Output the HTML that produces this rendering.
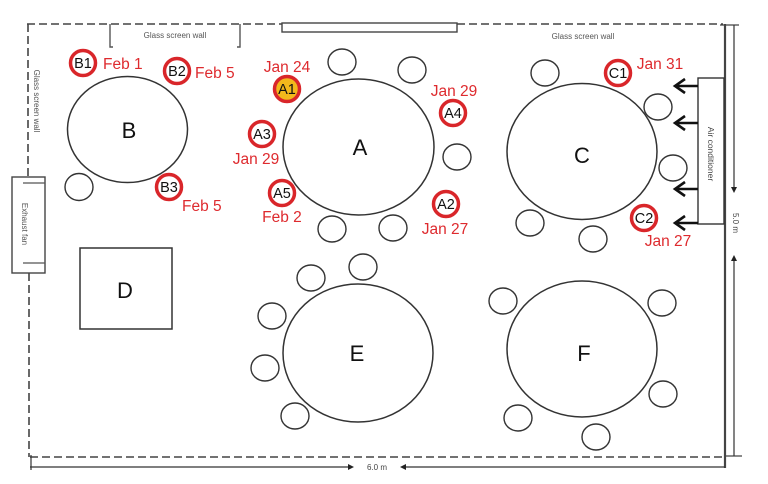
<!DOCTYPE html>
<html><head><meta charset="utf-8"><style>
html,body{margin:0;padding:0;background:#fff;}
svg{display:block;}
text{font-family:"Liberation Sans",sans-serif;}
</style></head><body>
<svg width="768" height="484" viewBox="0 0 768 484" xmlns="http://www.w3.org/2000/svg">
<rect width="768" height="484" fill="#fff"/>
<g fill="none" stroke="#444" stroke-width="1.6" stroke-dasharray="8,4">
<line x1="27" y1="24" x2="282" y2="24"/>
<line x1="457" y1="24" x2="723" y2="24"/>
<line x1="28" y1="24" x2="28" y2="177"/>
<line x1="29" y1="273" x2="29" y2="457"/>
<line x1="30" y1="457" x2="724" y2="457"/>
</g>
<!-- top glass rect -->
<rect x="282" y="23" width="175" height="9" fill="#fff" stroke="#444" stroke-width="1.4"/>
<!-- brackets -->
<g fill="none" stroke="#555" stroke-width="1.4">
<polyline points="110,24 110,47 113,47"/>
<polyline points="240,24 240,47 237,47"/>
</g>
<text x="175" y="38" font-size="8" fill="#555" text-anchor="middle">Glass screen wall</text>
<text x="583" y="39" font-size="8" fill="#555" text-anchor="middle">Glass screen wall</text>
<text transform="translate(34,101) rotate(90)" font-size="8" fill="#555" text-anchor="middle">Glass screen wall</text>
<!-- exhaust fan -->
<rect x="12" y="177" width="33" height="96" fill="#fff" stroke="#444" stroke-width="1.4"/>
<line x1="23" y1="183" x2="45" y2="183" stroke="#555" stroke-width="1.2"/>
<line x1="23" y1="263" x2="45" y2="263" stroke="#555" stroke-width="1.2"/>
<text transform="translate(22,224) rotate(90)" font-size="8" fill="#555" text-anchor="middle">Exhaust fan</text>
<!-- right wall -->
<line x1="725" y1="24" x2="725" y2="468" stroke="#444" stroke-width="2.2"/>
<line x1="720" y1="25" x2="739" y2="25" stroke="#444" stroke-width="1.2"/>
<line x1="724" y1="456" x2="742" y2="456" stroke="#444" stroke-width="1.2"/>
<!-- right dimension -->
<line x1="734" y1="25" x2="734" y2="190" stroke="#333" stroke-width="1.2"/>
<polygon points="731,187 737,187 734,193" fill="#222"/>
<line x1="734" y1="258" x2="734" y2="456" stroke="#333" stroke-width="1.2"/>
<polygon points="731,261 737,261 734,255" fill="#222"/>
<text transform="translate(733,223) rotate(90)" font-size="8" fill="#444" text-anchor="middle">5.0 m</text>
<!-- bottom dimension -->
<line x1="30" y1="467" x2="352" y2="467" stroke="#333" stroke-width="1.2"/>
<polygon points="348,464 348,470 354,467" fill="#222"/>
<line x1="402" y1="467" x2="725" y2="467" stroke="#333" stroke-width="1.2"/>
<polygon points="406,464 406,470 400,467" fill="#222"/>
<line x1="31" y1="455" x2="31" y2="470" stroke="#333" stroke-width="1.2"/>
<text x="377" y="470" font-size="8" fill="#444" text-anchor="middle">6.0 m</text>
<!-- air conditioner -->
<rect x="698" y="78" width="26" height="146" fill="#fff" stroke="#333" stroke-width="1.4"/>
<text transform="translate(708,154) rotate(90)" font-size="8.5" fill="#444" text-anchor="middle">Air conditioner</text>
<g stroke="#111" stroke-width="2.6" fill="none">
<line x1="698" y1="86" x2="675" y2="86"/><polyline points="685,79 675,86 685,93"/>
<line x1="698" y1="123" x2="675" y2="123"/><polyline points="685,116 675,123 685,130"/>
<line x1="698" y1="189" x2="675" y2="189"/><polyline points="685,182 675,189 685,196"/>
<line x1="698" y1="223" x2="675" y2="223"/><polyline points="685,216 675,223 685,230"/>
</g>
<!-- tables -->
<g fill="#fff" stroke="#333" stroke-width="1.5">
<ellipse cx="127.5" cy="129.5" rx="60" ry="53"/>
<ellipse cx="358.5" cy="147" rx="75.5" ry="68"/>
<ellipse cx="582" cy="151.5" rx="75" ry="68"/>
<ellipse cx="358" cy="353" rx="75" ry="69"/>
<ellipse cx="582" cy="349" rx="75" ry="68"/>
<rect x="80" y="248" width="92" height="81"/>
</g>
<!-- chairs -->
<g fill="#fff" stroke="#333" stroke-width="1.4">
<ellipse cx="79" cy="187" rx="14" ry="13.5"/>
<ellipse cx="342" cy="62" rx="14" ry="13"/>
<ellipse cx="412" cy="70" rx="14" ry="13"/>
<ellipse cx="457" cy="157" rx="14" ry="13"/>
<ellipse cx="332" cy="229" rx="14" ry="13"/>
<ellipse cx="393" cy="228" rx="14" ry="13"/>
<ellipse cx="545" cy="73" rx="14" ry="13"/>
<ellipse cx="658" cy="107" rx="14" ry="13"/>
<ellipse cx="673" cy="168" rx="14" ry="13"/>
<ellipse cx="530" cy="223" rx="14" ry="13"/>
<ellipse cx="593" cy="239" rx="14" ry="13"/>
<ellipse cx="311" cy="278" rx="14" ry="13"/>
<ellipse cx="363" cy="267" rx="14" ry="13"/>
<ellipse cx="272" cy="316" rx="14" ry="13"/>
<ellipse cx="265" cy="368" rx="14" ry="13"/>
<ellipse cx="295" cy="416" rx="14" ry="13"/>
<ellipse cx="503" cy="301" rx="14" ry="13"/>
<ellipse cx="662" cy="303" rx="14" ry="13"/>
<ellipse cx="663" cy="394" rx="14" ry="13"/>
<ellipse cx="518" cy="418" rx="14" ry="13"/>
<ellipse cx="596" cy="437" rx="14" ry="13"/>
</g>
<!-- table labels -->
<g font-size="22" fill="#111" text-anchor="middle">
<text x="129" y="138">B</text>
<text x="360" y="155">A</text>
<text x="582" y="163">C</text>
<text x="125" y="298">D</text>
<text x="357" y="361">E</text>
<text x="584" y="361">F</text>
</g>
<!-- red badges -->
<g stroke="#D9262A" stroke-width="3.5" fill="#fff">
<circle cx="83" cy="63" r="12.5"/>
<circle cx="177" cy="71" r="12.5"/>
<circle cx="169" cy="187" r="12.5"/>
<circle cx="287" cy="89" r="12.5" fill="#F2B81C"/>
<circle cx="262" cy="134" r="12.5"/>
<circle cx="282" cy="193" r="12.5"/>
<circle cx="453" cy="113" r="12.5"/>
<circle cx="446" cy="204" r="12.5"/>
<circle cx="618" cy="73" r="12.5"/>
<circle cx="644" cy="218" r="12.5"/>
</g>
<g font-size="14.5" fill="#111" text-anchor="middle">
<text x="83" y="68">B1</text>
<text x="177" y="76">B2</text>
<text x="169" y="192">B3</text>
<text x="287" y="94">A1</text>
<text x="262" y="139">A3</text>
<text x="282" y="198">A5</text>
<text x="453" y="118">A4</text>
<text x="446" y="209">A2</text>
<text x="618" y="78">C1</text>
<text x="644" y="223">C2</text>
</g>
<g font-size="15.5" fill="#DE2A2E">
<text x="103" y="69">Feb 1</text>
<text x="195" y="78">Feb 5</text>
<text x="182" y="211">Feb 5</text>
<text x="287" y="72" text-anchor="middle">Jan 24</text>
<text x="256" y="164" text-anchor="middle">Jan 29</text>
<text x="282" y="222" text-anchor="middle">Feb 2</text>
<text x="454" y="96" text-anchor="middle">Jan 29</text>
<text x="445" y="234" text-anchor="middle">Jan 27</text>
<text x="660" y="69" text-anchor="middle">Jan 31</text>
<text x="668" y="246" text-anchor="middle">Jan 27</text>
</g>
</svg>
</body></html>
